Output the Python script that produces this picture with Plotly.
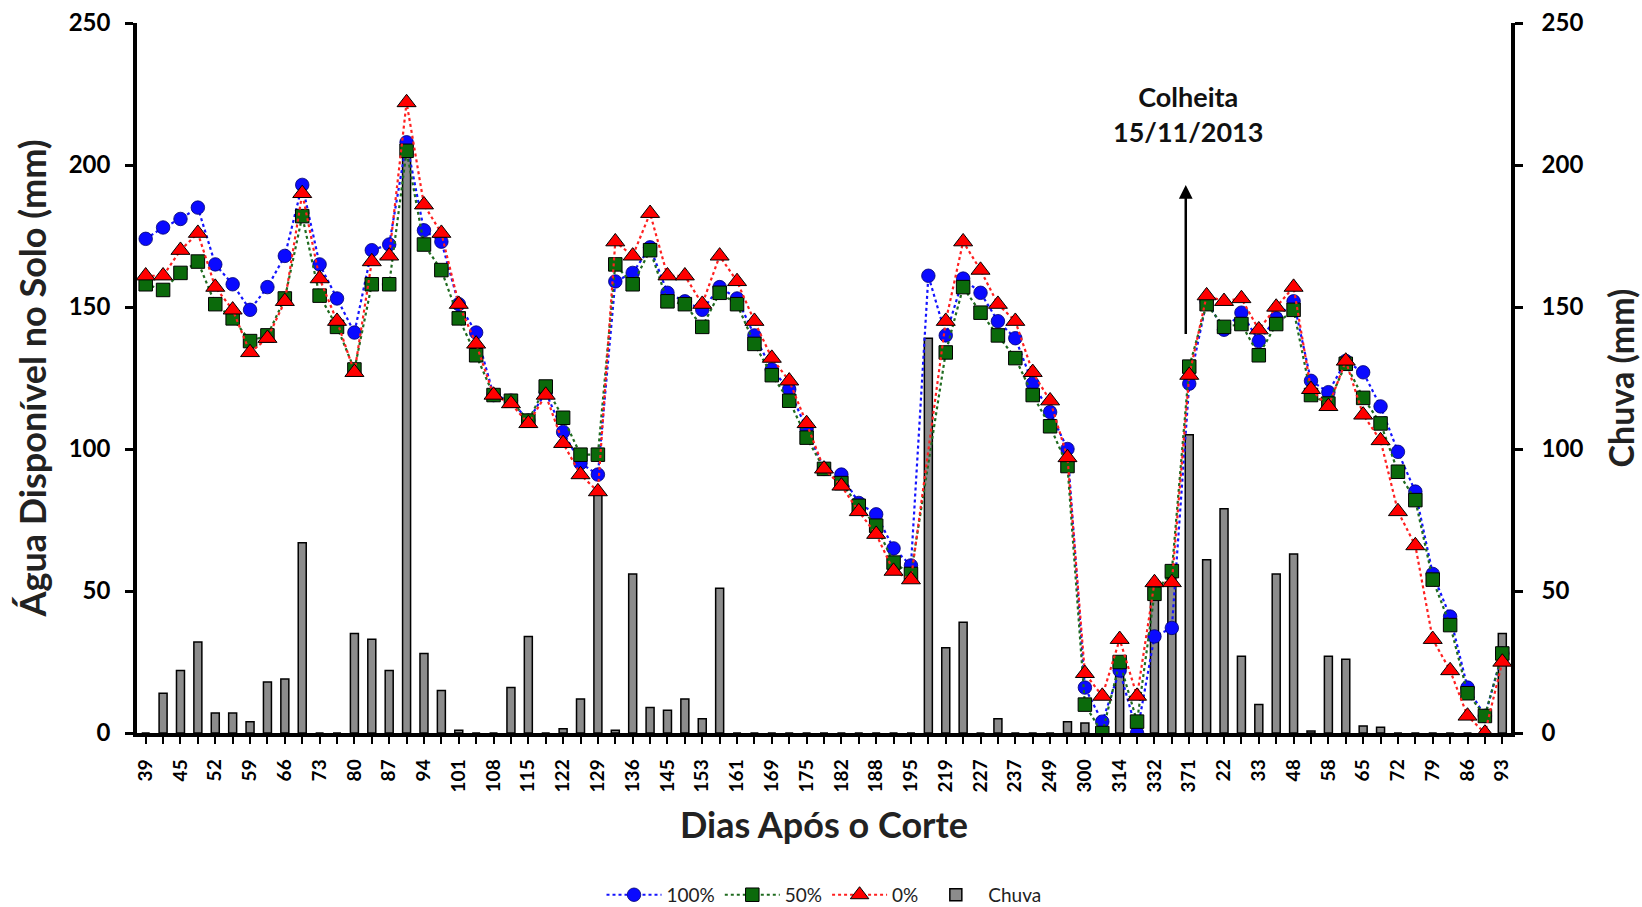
import plotly.graph_objects as go

# Day labels shown on the x axis (one label every other sampling date)
tick_labels = ["39", "45", "52", "59", "66", "73", "80", "87", "94", "101",
               "108", "115", "122", "129", "136", "145", "153", "161", "169", "175",
               "182", "188", "195", "219", "227", "237", "249", "300", "314", "332",
               "371", "22", "33", "48", "58", "65", "72", "79", "86", "93"]

agua_100 = [174, 178, 181, 185, 165, 158, 149, 157, 168, 193,
            165, 153, 141, 170, 172, 208, 177, 173, 151, 141,
            119, 117, 110, 120, 106, 95, 91, 159, 162, 171,
            155, 152, 149, 157, 153, 140, 128, 121, 107, 93,
            91, 81, 77, 65, 59, 161, 140, 160, 155, 145,
            139, 123, 113, 100, 16, 4, 22, 0, 34, 37,
            123, 152, 142, 148, 138, 146, 152, 124, 120, 131,
            127, 115, 99, 85, 56, 41, 16, 6, 28]

agua_50 = [158, 156, 162, 166, 151, 146, 138, 140, 153, 182,
           154, 143, 128, 158, 158, 205, 172, 163, 146, 133,
           119, 117, 110, 122, 111, 98, 98, 165, 158, 170,
           152, 151, 143, 155, 151, 137, 126, 117, 104, 93,
           88, 80, 73, 60, 56, None, 134, 157, 148, 140,
           132, 119, 108, 94, 10, 0, 25, 4, 49, 57,
           129, 151, 143, 144, 133, 144, 149, 119, 116, 130,
           118, 109, 92, 82, 54, 38, 14, 6, 28]

agua_0 = [161, 161, 170, 176, 157, 149, 134, 139, 152, 190,
          160, 145, 127, 166, 168, 222, 186, 176, 151, 137,
          119, 116, 109, 119, 102, 91, 85, 173, 168, 183,
          161, 161, 151, 168, 159, 145, 132, 124, 109, 93,
          87, 78, 70, 57, 54, None, 145, 173, 163, 151,
          145, 127, 117, 97, 21, 13, 33, 13, 53, 53,
          126, 154, 152, 153, 142, 150, 157, 121, 115, 131,
          112, 103, 78, 66, 33, 22, 6, 0, 25]

chuva = [0, 14, 22, 32, 7, 7, 4, 18, 19, 67,
         0, 0, 35, 33, 22, 206, 28, 15, 1, 0,
         0, 16, 34, 0, 1.5, 12, 84, 1, 56, 9,
         8, 12, 5, 51, 0, 0, 0, 0, 0, 0,
         0, 0, 0, 0, 0, 139, 30, 39, 0, 5,
         0, 0, 0, 4, 3.5, 0, 25, 0, 49, 57,
         105, 61, 79, 27, 10, 56, 63, 0.7, 27, 26,
         2.5, 2, 0, 0, 0, 0, 0, 0, 35]

n = len(agua_100)
xs = list(range(n))
tickvals = list(range(n))
ticktext = []
for i in range(n):
    ticktext.append(tick_labels[i // 2] if i % 2 == 0 else "")

FONT = "Lato"

fig = go.Figure()

fig.add_trace(go.Bar(
    x=xs, y=chuva, name="Chuva", width=0.46,
    marker=dict(color="#8c8c8c", line=dict(color="#000000", width=1.5)),
))

fig.add_trace(go.Scatter(
    x=xs, y=agua_100, name="100%", mode="lines+markers", connectgaps=True,
    line=dict(color="#1414ff", width=2.2, dash="dot"),
    marker=dict(symbol="circle", size=13.5, color="#0a0aff",
                line=dict(color="#00006e", width=0.8)),
))
fig.add_trace(go.Scatter(
    x=xs, y=agua_50, name="50%", mode="lines+markers", connectgaps=True,
    line=dict(color="#1f6b1f", width=2.2, dash="dot"),
    marker=dict(symbol="square", size=13.5, color="#0b6a0b",
                line=dict(color="#000000", width=1)),
))
fig.add_trace(go.Scatter(
    x=xs, y=agua_0, name="0%", mode="lines+markers", connectgaps=True,
    line=dict(color="#ff2020", width=2.2, dash="dot"),
    marker=dict(symbol="triangle-up", size=16.5, color="#ff0000",
                line=dict(color="#000000", width=1)),
))
# reference trace for the right-hand (Chuva) axis
fig.add_trace(go.Scatter(x=[None], y=[None], yaxis="y2", showlegend=False,
                         hoverinfo="skip"))

fig.add_annotation(
    x=59.8, y=193, ax=59.8, ay=140, xref="x", yref="y", axref="x", ayref="y",
    showarrow=True, arrowhead=2, arrowsize=1.1, arrowwidth=2.5, arrowcolor="#000000",
    text="",
)
fig.add_annotation(
    x=59.9, y=218, xref="x", yref="y", showarrow=False,
    text="Colheita<br>15/11/2013",
    font=dict(family=FONT, size=27, color="#111111", weight="bold"),
)

fig.update_layout(
    width=1642, height=907,
    margin=dict(l=137, r=131, t=23, b=174, autoexpand=False),
    paper_bgcolor="white", plot_bgcolor="white",
    barmode="overlay",
    font=dict(family=FONT, color="#000000"),
    xaxis=dict(
        range=[-0.5, n - 0.5], tickmode="array", tickvals=tickvals, ticktext=ticktext,
        tickangle=-90, ticks="outside", ticklen=7, tickwidth=2, tickcolor="#000",
        showline=True, linewidth=3.5, linecolor="#000", showgrid=False, zeroline=False,
        automargin=False,
        tickfont=dict(family=FONT, size=19, weight="bold"),
        ticklabelstandoff=8,
        title=dict(text="Dias Após o Corte", standoff=22,
                   font=dict(family=FONT, size=36, weight="bold", color="#222")),
    ),
    yaxis=dict(
        range=[0, 250], dtick=50, ticks="outside", ticklen=8, tickwidth=3, tickcolor="#000",
        showline=True, linewidth=3.5, linecolor="#000", showgrid=False, zeroline=False,
        automargin=False,
        tickfont=dict(family=FONT, size=24, weight="bold"),
        ticklabelstandoff=10,
        title=dict(text="Água Disponível no Solo (mm)", standoff=12,
                   font=dict(family=FONT, size=36, weight="bold", color="#222")),
    ),
    yaxis2=dict(
        range=[0, 250], dtick=50, overlaying="y", side="right",
        ticks="outside", ticklen=8, tickwidth=3, tickcolor="#000",
        showline=True, linewidth=3.5, linecolor="#000", showgrid=False, zeroline=False,
        automargin=False,
        tickfont=dict(family=FONT, size=24, weight="bold"),
        ticklabelstandoff=14,
        title=dict(text="Chuva (mm)", standoff=29,
                   font=dict(family=FONT, size=34, weight="bold", color="#222")),
    ),
    legend=dict(orientation="h", x=0.5, xanchor="center", y=-0.228, yanchor="middle",
                font=dict(family=FONT, size=19, color="#222"),
                traceorder="normal", itemwidth=55),
)

# legend order: 100%, 50%, 0%, Chuva
fig.data[0].legendrank = 4
fig.data[1].legendrank = 1
fig.data[2].legendrank = 2
fig.data[3].legendrank = 3

fig.write_html("out.html")
